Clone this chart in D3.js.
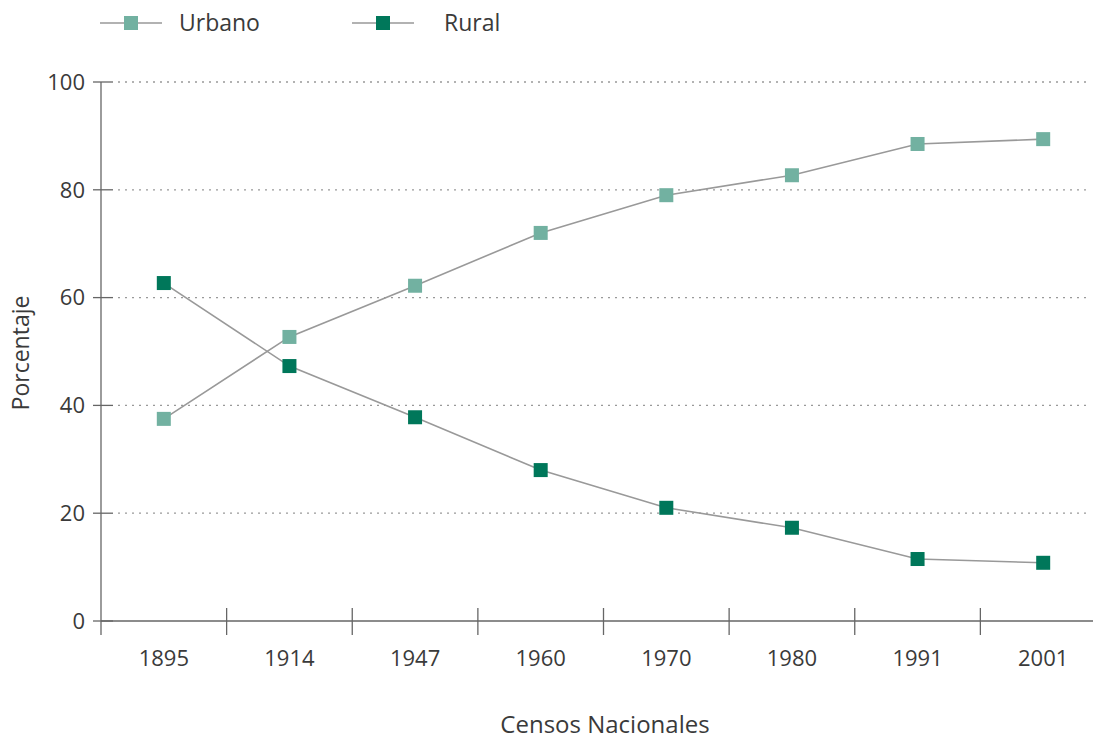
<!DOCTYPE html>
<html>
<head>
<meta charset="utf-8">
<script src="https://cdn.jsdelivr.net/npm/d3@7"></script>
<style>
  body { margin: 0; background: #fff; }
  text { font-family: "Open Sans", "Noto Sans", sans-serif; fill: #3a3a3a; }
</style>
</head>
<body>
<div id="chart"></div>
<script>
// census years and shares (%)
var years = ["1895", "1914", "1947", "1960", "1970", "1980", "1991", "2001"];
var urbano = [37.5, 52.7, 62.2, 72.0, 79.0, 82.7, 88.5, 89.4];
var rural = [62.7, 47.3, 37.8, 28.0, 21.0, 17.3, 11.5, 10.8];
var yTicks = [0, 20, 40, 60, 80, 100];

var w = 1093;
var h = 740;

var svg = d3.select("#chart")
    .append("svg")
    .attr("width", w)
    .attr("height", h);

var x = d3.scaleBand().domain(years).range([101, 1106]);
var y = d3.scaleLinear().domain([0, 100]).range([621, 82]);

// dotted gridlines
svg.selectAll("line.grid")
    .data(yTicks.filter(function(d) { return d > 0; }))
    .enter()
    .append("line")
    .attr("class", "grid")
    .attr("x1", 118)
    .attr("x2", 1086)
    .attr("y1", function(d) { return y(d); })
    .attr("y2", function(d) { return y(d); })
    .attr("stroke", "#999")
    .attr("stroke-width", 1.3)
    .attr("stroke-dasharray", "2,5");

// y axis
svg.append("line")
    .attr("x1", 101).attr("x2", 101)
    .attr("y1", y(100)).attr("y2", 635)
    .attr("stroke", "#666").attr("stroke-width", 1.3);

svg.selectAll("line.ytick")
    .data(yTicks)
    .enter()
    .append("line")
    .attr("class", "ytick")
    .attr("x1", 93).attr("x2", 113)
    .attr("y1", function(d) { return y(d); })
    .attr("y2", function(d) { return y(d); })
    .attr("stroke", "#666").attr("stroke-width", 1.3);

svg.selectAll("text.ylab")
    .data(yTicks)
    .enter()
    .append("text")
    .attr("class", "ylab")
    .attr("x", 85)
    .attr("y", function(d) { return y(d); })
    .attr("dy", "0.35em")
    .attr("text-anchor", "end")
    .style("font-size", "22px")
    .text(function(d) { return d; });

// x axis
svg.append("line")
    .attr("x1", 101).attr("x2", w)
    .attr("y1", y(0)).attr("y2", y(0))
    .attr("stroke", "#666").attr("stroke-width", 1.3);

svg.selectAll("line.xtick")
    .data(years.slice(1))
    .enter()
    .append("line")
    .attr("class", "xtick")
    .attr("x1", function(d) { return x(d); })
    .attr("x2", function(d) { return x(d); })
    .attr("y1", 608).attr("y2", 635)
    .attr("stroke", "#666").attr("stroke-width", 1.3);

svg.selectAll("text.xlab")
    .data(years)
    .enter()
    .append("text")
    .attr("class", "xlab")
    .attr("x", function(d) { return x(d) + x.bandwidth() / 2; })
    .attr("y", 666)
    .attr("text-anchor", "middle")
    .style("font-size", "22px")
    .text(function(d) { return d; });

// axis titles
svg.append("text")
    .attr("transform", "translate(29,353) rotate(-90)")
    .attr("text-anchor", "middle")
    .style("font-size", "23px")
    .text("Porcentaje");

svg.append("text")
    .attr("x", 605)
    .attr("y", 733)
    .attr("text-anchor", "middle")
    .style("font-size", "24px")
    .text("Censos Nacionales");

// series
var series = [
    { name: "Urbano", values: urbano, color: "#72b1a1" },
    { name: "Rural", values: rural, color: "#00775a" }
];

var line = d3.line()
    .x(function(d, i) { return x(years[i]) + x.bandwidth() / 2; })
    .y(function(d) { return y(d); });

var ms = 14;

series.forEach(function(s) {
    svg.append("path")
        .attr("d", line(s.values))
        .attr("fill", "none")
        .attr("stroke", "#999")
        .attr("stroke-width", 1.6);

    svg.selectAll("rect." + s.name)
        .data(s.values)
        .enter()
        .append("rect")
        .attr("class", s.name)
        .attr("x", function(d, i) { return x(years[i]) + x.bandwidth() / 2 - ms / 2; })
        .attr("y", function(d) { return y(d) - ms / 2; })
        .attr("width", ms)
        .attr("height", ms)
        .attr("fill", s.color);
});

// legend
var legendX = [100, 352];
var legendTextX = [179, 444];
series.forEach(function(s, i) {
    var g = svg.append("g");
    g.append("line")
        .attr("x1", legendX[i]).attr("x2", legendX[i] + 62)
        .attr("y1", 23).attr("y2", 23)
        .attr("stroke", "#999").attr("stroke-width", 1.6);
    g.append("rect")
        .attr("x", legendX[i] + 31 - ms / 2)
        .attr("y", 23 - ms / 2)
        .attr("width", ms).attr("height", ms)
        .attr("fill", s.color);
    g.append("text")
        .attr("x", legendTextX[i])
        .attr("y", 23)
        .attr("dy", "0.35em")
        .style("font-size", "23px")
        .text(s.name);
});
</script>
</body>
</html>
